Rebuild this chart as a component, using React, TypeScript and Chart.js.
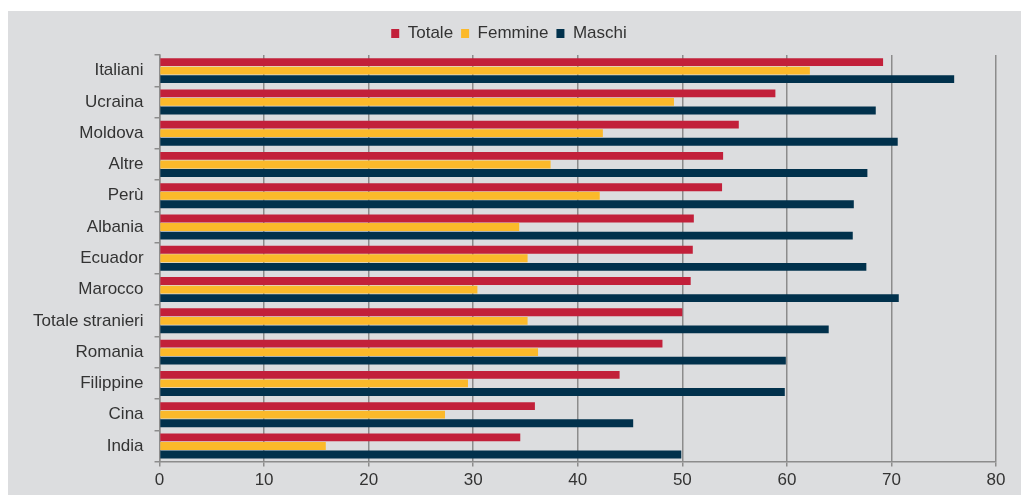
import React, { useEffect, useRef } from "react";
import { Chart, registerables } from "chart.js";

Chart.register(...registerables);

const categories = [
  "Italiani", "Ucraina", "Moldova", "Altre", "Perù", "Albania", "Ecuador",
  "Marocco", "Totale stranieri", "Romania", "Filippine", "Cina", "India",
];
const totale = [69.2, 58.9, 55.4, 53.9, 53.8, 51.1, 51.0, 50.8, 50.0, 48.1, 44.0, 35.9, 34.5];
const femmine = [62.2, 49.2, 42.4, 37.4, 42.1, 34.4, 35.2, 30.4, 35.2, 36.2, 29.5, 27.3, 15.9];
const maschi = [76.0, 68.5, 70.6, 67.7, 66.4, 66.3, 67.6, 70.7, 64.0, 59.9, 59.8, 45.3, 49.9];
const xTicks = [0, 10, 20, 30, 40, 50, 60, 70, 80];

const legendMargin = {
  id: "legendMargin",
  beforeInit(chart: any) {
    const legend = chart.legend;
    if (!legend) return;
    const fit = legend.fit;
    legend.fit = function () {
      fit.call(this);
      this.height += 3;
    };
  },
};

export default function App() {
  const ref = useRef<HTMLCanvasElement | null>(null);
  useEffect(() => {
    if (!ref.current) return;
    const font = { family: "'Liberation Sans', Arial, sans-serif", size: 17 };
    const chart = new Chart(ref.current, {
      type: "bar",
      data: {
        labels: categories,
        datasets: [
          { label: "Totale", data: totale, backgroundColor: "#c2203a" },
          { label: "Femmine", data: femmine, backgroundColor: "#fbb92a" },
          { label: "Maschi", data: maschi, backgroundColor: "#01314c" },
        ],
      },
      plugins: [legendMargin],
      options: {
        indexAxis: "y",
        animation: false,
        responsive: true,
        maintainAspectRatio: false,
        datasets: { bar: { categoryPercentage: 0.82, barPercentage: 0.92 } },
        layout: { padding: { top: 6, right: 25, bottom: 0, left: 14 } },
        plugins: {
          tooltip: { enabled: false },
          legend: {
            position: "top",
            labels: {
              boxWidth: 8,
              boxHeight: 9,
              color: "#333",
              font,
              padding: 8,
            },
          },
        },
        scales: {
          x: {
            min: 0,
            max: 80,
            afterBuildTicks: (axis: any) => {
              axis.ticks = xTicks.map((v) => ({ value: v }));
            },
            ticks: { color: "#333", font, padding: 4 },
            grid: { color: "#8c8c8c", lineWidth: 1.5, tickLength: 5 },
            border: { color: "#8c8c8c", width: 1.5 },
          },
          y: {
            ticks: { color: "#333", font, padding: 11 },
            grid: { drawOnChartArea: false, color: "#8c8c8c", tickLength: 5, offset: true, lineWidth: 1.5 },
            border: { color: "#8c8c8c", width: 1.5 },
          },
        },
      },
    });
    return () => chart.destroy();
  }, []);
  return (
    <div style={{ position: "absolute", left: 8, top: 11, width: 1013, height: 484, background: "#dcdddf" }}>
      <canvas ref={ref} />
    </div>
  );
}
